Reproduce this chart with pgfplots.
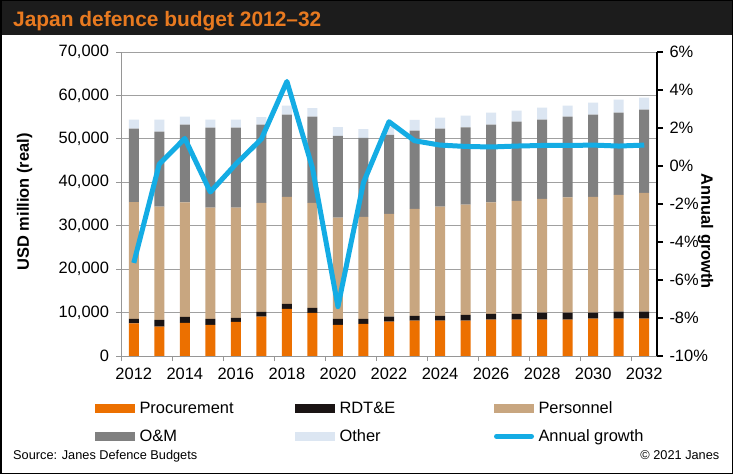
\documentclass[border=0pt]{standalone}
\usepackage{fontspec}
\setmainfont{Liberation Sans}
\usepackage{pgfplots}
\pgfplotsset{compat=1.18}
\usepackage{pgfplotstable}
\definecolor{hdr}{RGB}{28,28,28}
\definecolor{titleor}{RGB}{232,122,32}
\definecolor{cproc}{RGB}{236,112,0}
\definecolor{crdt}{RGB}{26,20,20}
\definecolor{cpers}{RGB}{200,166,128}
\definecolor{com}{RGB}{128,128,128}
\definecolor{coth}{RGB}{220,230,242}
\definecolor{cline}{RGB}{20,172,228}
\definecolor{gridgray}{RGB}{160,160,160}
\definecolor{axgray}{RGB}{150,150,150}

\pgfplotsset{
  barleg/.style={legend image code/.code={\fill[##1] (0bp,-4.5bp) rectangle (40bp,4.5bp);}},
  lineleg/.style={legend image code/.code={\draw[##1] (2.5bp,0bp) -- (37.5bp,0bp);}},
}

\pgfplotstableread{
year proc rdt pers om other growth
2012 7530 1000 26890 16910 2070 -5.1
2013 6760 1540 26120 17220 2760 0.1
2014 7610 1380 26360 17900 1850 1.45
2015 7150 1380 25660 18370 1840 -1.37
2016 7840 920 25430 18370 1840 0.1
2017 9070 1070 25130 17980 1770 1.42
2018 10830 1160 24660 18910 2070 4.45
2019 9910 1150 24210 19830 1990 -0.1
2020 7150 1380 23340 18810 2000 -7.4
2021 7380 1150 23530 18160 2040 -0.87
2022 7910 1160 23680 18170 1880 2.33
2023 8150 1070 24680 17980 2490 1.33
2024 8150 1070 25200 17910 2530 1.1
2025 8150 1300 25430 17760 2690 1.03
2026 8380 1300 25670 17900 2770 1.0
2027 8380 1300 26050 18210 2540 1.05
2028 8380 1610 26200 18210 2770 1.08
2029 8380 1610 26510 18600 2530 1.08
2030 8610 1380 26660 18910 2760 1.1
2031 8610 1610 26890 18910 2990 1.05
2032 8610 1610 27350 19140 2760 1.1
}\data

\newcommand{\tf}{\fontsize{16.5}{16.5}\selectfont}

\begin{document}
\begin{tikzpicture}
\path[use as bounding box, fill=white] (0,0) rectangle (733bp,474bp);
\fill[hdr] (0,439bp) rectangle (733bp,474bp);
\node[anchor=base west, inner sep=0pt, text=titleor, font=\bfseries\fontsize{21}{21}\selectfont] at (13bp,447.5bp) {Japan defence budget 2012–32};

\begin{axis}[
  at={(121bp,118bp)}, anchor=south west,
  scale only axis, width=536bp, height=304bp,
  xmin=2011.5, xmax=2032.5, ymin=0, ymax=70000,
  scaled y ticks=false, scaled x ticks=false,
  ybar stacked, bar width=10bp,
  axis x line*=bottom, axis y line*=left,
  axis line style={draw=axgray, line width=0.8bp},
  ytick={0,10000,20000,30000,40000,50000,60000,70000},
  yticklabels={0,{10,000},{20,000},{30,000},{40,000},{50,000},{60,000},{70,000}},
  ymajorgrids, grid style={draw=gridgray, line width=0.8bp},
  xtick={2012,2014,2016,2018,2020,2022,2024,2026,2028,2030,2032},
  xticklabels={2012,2014,2016,2018,2020,2022,2024,2026,2028,2030,2032},
  xtick style={draw=none},
  extra x ticks={2011.5,2013.5,2015.5,2017.5,2019.5,2021.5,2023.5,2025.5,2027.5,2029.5,2031.5},
  extra x tick labels={},
  extra x tick style={grid=none, xtick style={draw=axgray, line width=0.8bp}},
  tick align=outside,
  ytick style={draw=axgray, line width=0.8bp},
  major tick length=5bp,
  ticklabel style={font=\tf},
  yticklabel style={xshift=-3.5bp},
  xticklabel style={yshift=-4bp},
  every axis y label/.style={at={(axis description cs:-0.180,0.507)}, rotate=90, anchor=center},
  ylabel={\bfseries\tf USD million (real)},
  legend columns=3,
  legend style={draw=none, fill=none, inner sep=0pt, outer sep=0pt,
    at={(-0.0485,-0.126)}, anchor=north west,
    column sep=0pt, row sep=0pt,
    nodes={inner sep=0pt, text height=19bp, text depth=9bp, font=\tf},
    cells={anchor=west}},
]
\addplot[fill=cproc, draw=none, barleg] table[x=year,y=proc]{\data};
\addlegendentry{\makebox[160bp][l]{\hspace{4.5bp}Procurement}}
\addplot[fill=crdt, draw=none, barleg] table[x=year,y=rdt]{\data};
\addlegendentry{\makebox[159bp][l]{\hspace{4.5bp}RDT\&E}}
\addplot[fill=cpers, draw=none, barleg] table[x=year,y=pers]{\data};
\addlegendentry{\makebox[120bp][l]{\hspace{4.5bp}Personnel}}
\addplot[fill=com, draw=none, barleg] table[x=year,y=om]{\data};
\addlegendentry{\makebox[160bp][l]{\hspace{4.5bp}O\&M}}
\addplot[fill=coth, draw=none, barleg] table[x=year,y=other]{\data};
\addlegendentry{\makebox[159bp][l]{\hspace{4.5bp}Other}}
\addlegendimage{draw=cline, line width=5bp, line cap=round, lineleg}
\addlegendentry{\makebox[120bp][l]{\hspace{4.5bp}Annual growth}}
\end{axis}

\begin{axis}[
  at={(121bp,118bp)}, anchor=south west,
  scale only axis, width=536bp, height=304bp,
  xmin=2011.5, xmax=2032.5, ymin=-10, ymax=6,
  axis x line=none, axis y line*=right,
  y axis line style={draw=black, line width=2bp},
  ytick={-10,-8,-6,-4,-2,0,2,4,6},
  yticklabels={-10\%,-8\%,-6\%,-4\%,-2\%,0\%,2\%,4\%,6\%},
  ytick style={draw=black, line width=1.5bp},
  tick align=outside, major tick length=6bp,
  ticklabel style={font=\tf},
  yticklabel style={xshift=3bp},
  every axis y label/.style={at={(axis description cs:1.0905,0.41)}, rotate=-90, anchor=center},
  ylabel={\bfseries\tf Annual growth},
]
\addplot[draw=cline, line width=5bp, line join=round, mark=none] table[x=year,y=growth]{\data};
\end{axis}

\node[anchor=base west, inner sep=0pt, font=\fontsize{12.8}{12.8}\selectfont] at (13bp,15bp) {Source: Janes Defence Budgets};
\node[anchor=base east, inner sep=0pt, font=\fontsize{12.8}{12.8}\selectfont] at (719.5bp,15bp) {© 2021 Janes};
\draw[line width=1.5bp, black] (0.75bp,0.75bp) rectangle (732.25bp,473.25bp);
\end{tikzpicture}
\end{document}
